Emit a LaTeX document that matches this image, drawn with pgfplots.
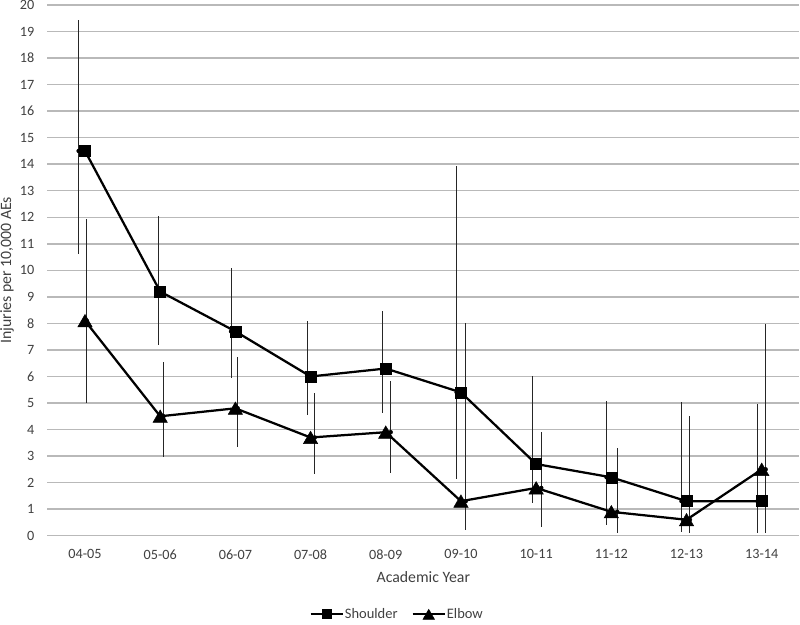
\documentclass[border=0pt]{standalone}
\usepackage{fontspec}
\setmainfont{Carlito}
\usepackage{pgfplots}
\pgfplotsset{compat=1.18}
\usepackage{pgfplotstable}
\definecolor{txt}{RGB}{64,64,64}
\definecolor{gridc}{RGB}{185,185,185}

\pgfplotstableread{
x y
0 14.5
1 9.2
2 7.7
3 6.0
4 6.3
5 5.4
6 2.7
7 2.2
8 1.3
9 1.3
}\shoulder

\pgfplotstableread{
x y
0 8.1
1 4.5
2 4.8
3 3.7
4 3.9
5 1.3
6 1.8
7 0.9
8 0.6
9 2.5
}\elbow

\pgfplotstableread{
x y ep em
-0.084 14.5 4.93 3.90
0.977 9.2 2.85 2.01
1.943 7.7 2.38 1.77
2.956 6.0 2.09 1.45
3.954 6.3 2.18 1.66
4.943 5.4 8.53 3.28
5.957 2.7 3.32 1.48
6.937 2.2 2.88 1.80
7.934 1.3 3.73 1.15
8.945 1.3 3.67 1.21
}\shoulderErr

\pgfplotstableread{
x y ep em
0.023 8.1 3.83 3.11
1.044 4.5 2.03 1.52
2.031 4.8 1.95 1.45
3.055 3.7 1.69 1.39
4.065 3.9 1.94 1.53
5.063 1.3 6.73 1.09
6.068 1.8 2.10 1.46
7.078 0.9 2.40 0.81
8.045 0.6 3.92 0.51
9.052 2.5 5.48 2.41
}\elbowErr

\begin{document}
\begin{tikzpicture}
\begin{axis}[
  scale only axis,
  width=751.9pt, height=530.7pt,
  xmin=-0.5, xmax=9.5, ymin=0, ymax=20,
  axis line style={draw=none},
  xtick={0,...,9},
  xticklabels={04-05,05-06,06-07,07-08,08-09,09-10,10-11,11-12,12-13,13-14},
  ytick={0,...,20},
  ymajorgrids,
  grid style={gridc, line width=1.5pt},
  major tick length=0pt,
  tick style={draw=none},
  /pgf/number format/assume math mode=true,
  tick label style={font=\fontsize{14.2}{16}\selectfont, text=txt},
  xticklabel style={anchor=north, inner sep=0pt, yshift=-13.6pt},
  yticklabel style={anchor=east, inner sep=0pt, xshift=-13pt},
  xlabel={Academic Year},
  ylabel={Injuries per 10,000 AEs},
  label style={font=\fontsize{15.8}{18}\selectfont, text=txt},
  xlabel style={at={(axis description cs:0.5,0)}, anchor=north, inner sep=0pt, yshift=-36pt},
  ylabel style={at={(axis description cs:0,0.5)}, anchor=center, inner sep=0pt, yshift=40.4pt},
  legend style={draw=none, fill=none, at={(axis description cs:0.4646,-0.1475)}, anchor=center,
    legend columns=-1, font=\fontsize{14.5}{17}\selectfont, text=txt,
    nodes={inner sep=1pt}, cells={anchor=west},
    /tikz/every even column/.append style={column sep=13pt}},
  legend image code/.code={\draw[mark repeat=2, mark phase=2, #1, every mark/.append style={scale=0.8}] plot coordinates {(0pt,0pt) (16pt,0pt) (32pt,0pt)};},
  clip=false,
]
\addplot[forget plot, only marks, mark=none,
  error bars/.cd, y dir=both, y explicit, error mark=none,
  error bar style={line width=1pt, black!85}]
  table[x=x, y=y, y error plus=ep, y error minus=em] {\shoulderErr};
\addplot[forget plot, only marks, mark=none,
  error bars/.cd, y dir=both, y explicit, error mark=none,
  error bar style={line width=1pt, black!85}]
  table[x=x, y=y, y error plus=ep, y error minus=em] {\elbowErr};
\addplot[black, line width=2.25pt, mark=square*, mark size=5.5pt,
  mark options={solid, line width=0.5pt}] table[x=x, y=y] {\shoulder};
\addlegendentry{Shoulder}
\addplot[black, line width=2.25pt, mark=triangle*, mark size=8.3pt,
  mark options={solid, line width=0.5pt, yshift=-2pt}] table[x=x, y=y] {\elbow};
\addlegendentry{Elbow}
\coordinate (bl) at (rel axis cs:0,0);
\coordinate (tr) at (rel axis cs:1,1);
\end{axis}
\pgfresetboundingbox
\useasboundingbox ([shift={(-47.4pt,-89.3pt)}]bl) rectangle ([shift={(0.7pt,5pt)}]tr);
\end{tikzpicture}
\end{document}
